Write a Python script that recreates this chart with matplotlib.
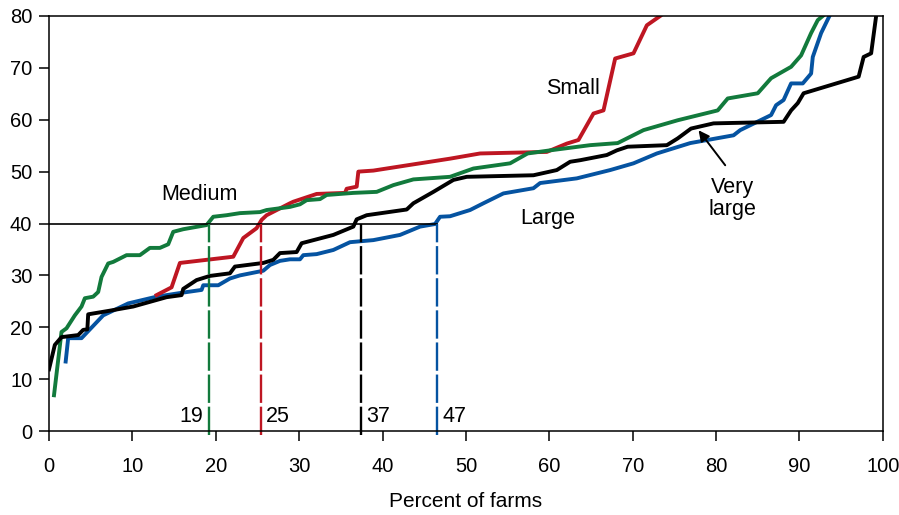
import numpy as np
import matplotlib
matplotlib.use("Agg")
import matplotlib.pyplot as plt

plt.rcParams['font.family'] = ['Liberation Sans', 'DejaVu Sans']

# cumulative curves (x = percent of farms, y = value)
small_x = [12.9, 14.7, 15.7, 22.1, 23.3, 24.9, 25.5, 26.1, 28.9, 29.3, 32.1, 35.5, 35.7, 36.9, 37.1,
           38.9, 48.1, 51.7, 59.7, 62.1, 63.5, 65.3, 66.5, 67.9, 70.1, 71.7, 73.3]
small_y = [26.2, 27.7, 32.4, 33.6, 37.2, 39.1, 40.7, 41.6, 43.9, 44.2, 45.7, 45.9, 46.7, 47.1, 50.0,
           50.2, 52.5, 53.5, 53.8, 55.4, 56.1, 61.2, 61.8, 71.8, 72.8, 78.2, 80.0]

medium_x = [0.6, 1.5, 2.1, 3.1, 3.9, 4.3, 5.3, 5.9, 6.3, 7.1, 7.7, 9.3, 10.9, 12.1, 13.3, 14.3, 14.9,
            16.1, 18.9, 19.7, 21.3, 22.9, 25.3, 26.1, 28.9, 30.1, 30.9, 32.5, 33.3, 36.5, 39.3, 41.3,
            43.7, 48.1, 50.9, 55.3, 57.4, 60.1, 64.9, 68.2, 71.3, 75.4, 80.2, 81.4, 85.0, 86.6, 89.0,
            90.2, 91.4, 92.2, 92.8]
medium_y = [6.9, 19.1, 19.8, 22.3, 24.0, 25.6, 25.9, 26.8, 29.7, 32.3, 32.6, 33.9, 33.9, 35.3, 35.3,
            36.0, 38.4, 38.9, 39.7, 41.3, 41.6, 42.0, 42.2, 42.6, 43.2, 43.7, 44.5, 44.7, 45.5, 45.9,
            46.1, 47.4, 48.5, 49.0, 50.6, 51.6, 53.5, 54.1, 55.1, 55.5, 58.0, 59.9, 61.8, 64.1, 65.1,
            68.0, 70.2, 72.4, 76.7, 79.2, 80.0]

large_x = [2.0, 2.3, 3.9, 6.5, 9.5, 12.9, 15.7, 18.3, 18.5, 20.3, 21.7, 22.9, 25.7, 26.5, 27.7, 28.9,
           30.1, 30.5, 32.1, 34.1, 36.1, 38.9, 42.1, 44.5, 46.3, 46.9, 48.1, 50.5, 52.1, 54.5, 58.1,
           58.9, 63.3, 67.3, 70.1, 72.9, 76.9, 82.1, 82.9, 86.6, 87.2, 88.1, 89.0, 90.4, 91.4, 91.6,
           92.6, 93.6]
large_y = [13.4, 17.9, 17.9, 22.3, 24.6, 25.9, 26.6, 27.2, 28.1, 28.1, 29.4, 30.0, 30.9, 32.0, 32.8,
           33.1, 33.1, 33.9, 34.1, 34.9, 36.4, 36.8, 37.8, 39.4, 39.9, 41.3, 41.4, 42.6, 43.9, 45.8,
           46.8, 47.8, 48.7, 50.3, 51.6, 53.5, 55.5, 57.0, 58.0, 60.9, 62.8, 63.8, 67.0, 67.0, 68.9,
           72.1, 76.7, 80.0]

vlarge_x = [0.0, 0.7, 1.5, 3.5, 4.1, 4.6, 4.7, 7.3, 10.1, 14.1, 15.9, 16.1, 17.7, 19.3, 21.7, 22.3,
            25.7, 26.9, 27.7, 29.7, 30.3, 34.1, 36.5, 36.9, 38.1, 42.9, 43.7, 46.1, 48.5, 50.1, 58.1,
            60.9, 62.5, 63.7, 66.9, 68.1, 69.4, 74.1, 75.4, 77.0, 79.7, 88.1, 89.0, 89.8, 90.5, 97.1,
            97.7, 98.6, 99.2]
vlarge_y = [11.9, 16.6, 18.1, 18.5, 19.5, 19.6, 22.5, 23.2, 24.0, 25.8, 26.2, 27.4, 29.1, 29.9, 30.4,
            31.7, 32.4, 33.0, 34.3, 34.5, 36.2, 37.8, 39.4, 40.8, 41.6, 42.7, 43.9, 46.1, 48.4, 49.0,
            49.3, 50.3, 51.9, 52.2, 53.2, 54.1, 54.8, 55.1, 56.4, 58.3, 59.3, 59.6, 61.8, 63.2, 65.1,
            68.3, 72.1, 72.8, 80.0]

# percent of farms below 40
cut_level = 40
cut_pct = [19.24, 25.37, 37.4, 46.5]
cut_labels = ['19', '25', '37', '47']

green = '#127a3c'
red = '#be1622'
blue = '#0553a1'
black = '#000000'

fig = plt.figure(figsize=(8.99, 5.15), dpi=100)
ax = fig.add_axes([0.0545, 0.163, 0.9275, 0.806])

lw = 2.8
ax.plot(large_x, large_y, color=blue, lw=lw)
ax.plot(small_x, small_y, color=red, lw=lw)
ax.plot(medium_x, medium_y, color=green, lw=lw)
ax.plot(vlarge_x, vlarge_y, color=black, lw=lw)

ax.plot([0, cut_pct[3]], [cut_level, cut_level], color='black', lw=1.2)

cut_colors = [green, red, black, blue]
for p, lab, c in zip(cut_pct, cut_labels, cut_colors):
    ax.plot([p, p], [-0.8, cut_level], color=c, lw=1.7, dashes=(12, 1.6), clip_on=False)
    if lab == '19':
        ax.text(p - 0.8, 1.8, lab, ha='right', va='baseline', fontsize=15.5)
    else:
        ax.text(p + 0.7, 1.8, lab, ha='left', va='baseline', fontsize=15.5)

ax.text(18.1, 45.5, 'Medium', ha='center', va='center', fontsize=15.5)
ax.text(62.8, 66.0, 'Small', ha='center', va='center', fontsize=15.5)
ax.text(59.8, 41.0, 'Large', ha='center', va='center', fontsize=15.5)
ax.text(82.0, 44.8, 'Very\nlarge', ha='center', va='center', fontsize=15.5, linespacing=1.05)
ax.annotate('', xy=(77.7, 58.4), xytext=(81.3, 50.8),
            arrowprops=dict(arrowstyle='-|>', color='black', lw=1.4, mutation_scale=16))

ax.set_xlim(0, 100)
ax.set_ylim(0, 80)
ax.set_xticks(np.arange(0, 101, 10))
ax.set_yticks(np.arange(0, 81, 10))
ax.tick_params(axis='both', direction='out', length=7, width=1.1, labelsize=14.5)
ax.tick_params(axis='x', pad=12)
ax.tick_params(axis='y', pad=5)
ax.tick_params(top=False, right=False)
for s in ax.spines.values():
    s.set_linewidth(1.1)
ax.set_xlabel('Percent of farms', fontsize=15, labelpad=11)

plt.savefig('out.png', dpi=100)
